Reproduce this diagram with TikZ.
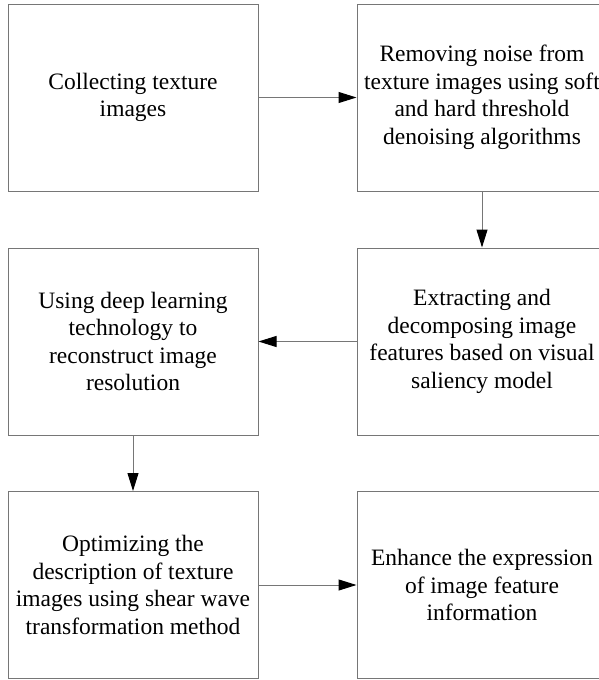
\documentclass[tikz,border=0pt]{standalone}
\usepackage{fontspec}
\setmainfont{Liberation Serif}
\usetikzlibrary{arrows.meta}
\definecolor{linegray}{RGB}{118,118,118}
\tikzset{
  stepbox/.style={draw=linegray,line width=1pt,minimum width=250pt,minimum height=187pt,
    align=center,inner sep=0pt,font=\fontsize{23.5}{27.5}\selectfont},
  flow/.style={draw=linegray,line width=1pt,-{Triangle[length=18pt,width=11pt,black]}}
}
\begin{document}
\begin{tikzpicture}[x=1pt,y=-1pt]
\useasboundingbox (0,0) rectangle (599,680);
\clip (0,0) rectangle (599,680);
\node[stepbox] (collect) at (133,97.5) {Collecting texture\\images};
\node[stepbox] (denoise) at (482,97.5) {Removing noise from\\texture images using soft\\and hard threshold\\denoising algorithms};
\node[stepbox] (extract) at (482,341.5) {Extracting and\\decomposing image\\features based on visual\\saliency model};
\node[stepbox] (recon) at (133,341.5) {Using deep learning\\technology to\\reconstruct image\\resolution};
\node[stepbox] (optim) at (133,585) {Optimizing the\\description of texture\\images using shear wave\\transformation method};
\node[stepbox] (enhance) at (482,585) {Enhance the expression\\of image feature\\information};
\draw[flow] (collect) -- (denoise);
\draw[flow] (denoise) -- (extract);
\draw[flow] (extract) -- (recon);
\draw[flow] (recon) -- (optim);
\draw[flow] (optim) -- (enhance);
\end{tikzpicture}
\end{document}
